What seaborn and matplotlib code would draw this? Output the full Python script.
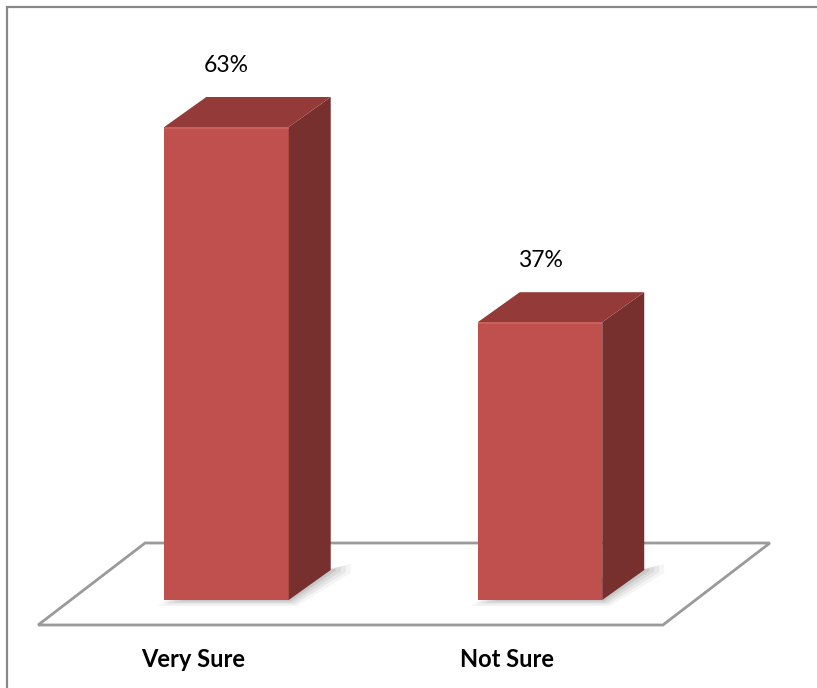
import matplotlib
matplotlib.use("Agg")
import matplotlib.pyplot as plt
from matplotlib.patches import Polygon, Rectangle
import seaborn as sns
import pandas as pd

# ---- data -------------------------------------------------------------
categories = ["Very Sure", "Not Sure"]
values = [63, 37]
value_labels = ["63%", "37%"]

# ---- colours ----------------------------------------------------------
FRONT = "#C0504D"
TOP = "#943A38"
SIDE = "#78302E"
FLOOR_EDGE = "#9A9A9A"
FRAME = "#878787"

sns.set_theme(style="white")
plt.rcParams["font.family"] = ["Lato", "DejaVu Sans"]

W, H, DPI = 817, 688, 100
fig = plt.figure(figsize=(W / DPI, H / DPI), dpi=DPI)
ax = fig.add_axes([0, 0, 1, 1])

df = pd.DataFrame({"category": categories, "value": values})
sns.barplot(data=df, x="category", y="value", color=FRONT, saturation=1,
            width=0.397, ax=ax, zorder=3, edgecolor="none")

# pixel scale of the plotting space (category units / percent units)
px_x = 313.5
px_y = 7.508
x0_px, base_px = 226.5, 600
ax.set_xlim(-x0_px / px_x, (W - x0_px) / px_x)
ax.set_ylim(-(H - base_px) / px_y, base_px / px_y)

# depth of the extruded bars
dx = 42 / px_x
dy = 30 / px_y

# floor plane (parallelogram) beneath the bars
fl_front, fl_back = -25 / px_y, 57 / px_y
fl_left, fl_right = -0.601, 1.392
fl_shift = 107 / px_x
floor = Polygon([(fl_left, fl_front), (fl_right, fl_front),
                 (fl_right + fl_shift, fl_back), (fl_left + fl_shift, fl_back)],
                closed=True, facecolor="white", edgecolor=FLOOR_EDGE,
                linewidth=2, zorder=1)
ax.add_patch(floor)

for bar, lab in zip(ax.patches[:len(values)], value_labels):
    xl = bar.get_x()
    xr = xl + bar.get_width()
    h = bar.get_height()
    # soft drop shadow on the floor
    for k, a in enumerate([0.04, 0.05, 0.06, 0.08]):
        g = (4 - k) * 2.0 / px_x
        gy = (4 - k) * 1.5 / px_y
        ax.add_patch(Polygon([(xl - g, -gy), (xr + g, -gy),
                              (xr + dx + g * 2.5, dy - gy * 0.5),
                              (xr + dx + g * 2.5, dy + gy)],
                             closed=True, facecolor="#000000", alpha=a,
                             edgecolor="none", zorder=2))
    side = Polygon([(xr, 0), (xr + dx, dy), (xr + dx, h + dy), (xr, h)],
                   closed=True, facecolor=SIDE, edgecolor="none", zorder=3)
    top = Polygon([(xl, h), (xl + dx, h + dy), (xr + dx, h + dy), (xr, h)],
                  closed=True, facecolor=TOP, edgecolor="none", zorder=3)
    ax.add_patch(side)
    ax.add_patch(top)
    # faint highlight along the front top edge
    ax.plot([xl, xr], [h - 0.15, h - 0.15], color="#CC6663", lw=1.2,
            zorder=4, solid_capstyle="butt")
    ax.annotate(lab, xy=(bar.get_x() + bar.get_width() / 2, h),
                xytext=(0, 55 * 72 / DPI), textcoords="offset points",
                ha="center", va="baseline", fontsize=16.5, color="#000000",
                zorder=5)

# category names sit on the front edge of the floor
lab_shift = 33 / px_x
lab_y = -(667 - base_px) / px_y
for i, name in enumerate(categories):
    ax.text(i - lab_shift, lab_y, name, ha="center", va="baseline",
            fontsize=17, fontweight="bold", color="#000000")

ax.set_xlabel("")
ax.set_ylabel("")
ax.set_xticks([])
ax.set_yticks([])
for s in ax.spines.values():
    s.set_visible(False)
ax.patch.set_alpha(0)

# chart-area frame
fig.patches.append(Rectangle((7 / W, -0.1), 1.2, 1.1 - 7 / H,
                             transform=fig.transFigure, fill=False,
                             edgecolor=FRAME, linewidth=1.6, zorder=0))

fig.savefig("out.png", dpi=DPI, facecolor="white")
